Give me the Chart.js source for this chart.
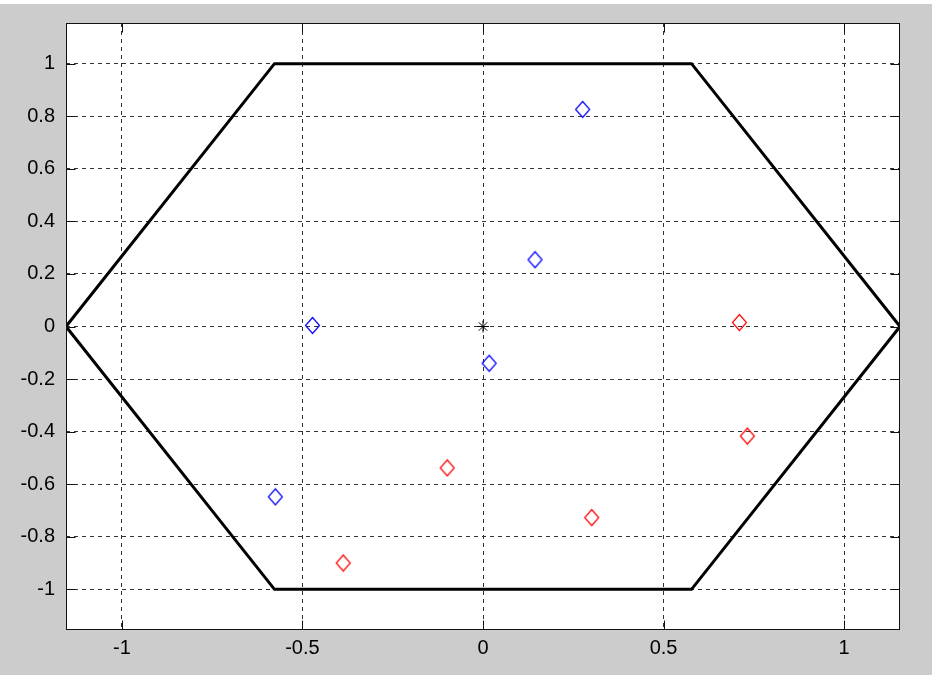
<!DOCTYPE html>
<html>
<head>
<meta charset="utf-8">
<script src="https://cdn.jsdelivr.net/npm/chart.js@4/dist/chart.umd.min.js"></script>
<style>
  html, body { margin: 0; padding: 0; background: #cccccc; }
  canvas { display: block; }
</style>
</head>
<body>
<canvas id="c" width="932" height="675"></canvas>
<script>
// Hexagon outline (closed)
const hexX = [-1.1547, -0.5774, 0.5774, 1.1547, 0.5774, -0.5774, -1.1547];
const hexY = [0, 1, 1, 0, -1, -1, 0];

// Blue samples
const blueX = [0.276, 0.144, -0.472, 0.017, -0.575];
const blueY = [0.826, 0.254, 0.004, -0.14, -0.648];

// Red samples
const redX = [0.71, 0.732, 0.301, -0.099, -0.387];
const redY = [0.015, -0.417, -0.727, -0.538, -0.90];

// Centre marker
const centerX = [0];
const centerY = [0];

// Axis ticks and labels
const xTicks = [-1, -0.5, 0, 0.5, 1];
const xTickLabels = ['-1', '-0.5', '0', '0.5', '1'];
const yTicks = [-1, -0.8, -0.6, -0.4, -0.2, 0, 0.2, 0.4, 0.6, 0.8, 1];
const yTickLabels = ['-1', '-0.8', '-0.6', '-0.4', '-0.2', '0', '0.2', '0.4', '0.6', '0.8', '1'];

const xLim = [-1.1547, 1.1547];
const yLim = [-1.1547, 1.1547];

const pts = (xs, ys) => xs.map((x, i) => ({ x: x, y: ys[i] }));

// Open diamond marker, a little taller than wide
function diamond(color) {
  const c = document.createElement('canvas');
  c.width = 17; c.height = 19;
  const g = c.getContext('2d');
  g.strokeStyle = color;
  g.lineWidth = 1.2;
  g.beginPath();
  g.moveTo(8.5, 1.5);
  g.lineTo(15.5, 9.5);
  g.lineTo(8.5, 17.5);
  g.lineTo(1.5, 9.5);
  g.closePath();
  g.stroke();
  return c;
}

// Figure background, white plot area, box and inward tick marks
const framePlugin = {
  id: 'frame',
  beforeDraw(chart) {
    const ctx = chart.ctx;
    const a = chart.chartArea;
    ctx.save();
    ctx.fillStyle = '#cccccc';
    ctx.fillRect(0, 0, chart.width, chart.height);
    ctx.fillStyle = '#ffffff';
    ctx.fillRect(0, 0, chart.width, 4);
    ctx.fillRect(a.left, a.top, a.right - a.left, a.bottom - a.top);
    ctx.restore();
  },
  afterDraw(chart) {
    const ctx = chart.ctx;
    const a = chart.chartArea;
    const xs = chart.scales.x, ys = chart.scales.y;
    const L = Math.round(a.left) + 0.5, R = Math.round(a.right) - 0.5;
    const T = Math.round(a.top) + 0.5, B = Math.round(a.bottom) - 0.5;
    const tl = 9;
    ctx.save();
    ctx.strokeStyle = '#111111';
    ctx.lineWidth = 1;
    ctx.beginPath();
    xTicks.forEach(v => {
      const p = Math.round(xs.getPixelForValue(v)) + 0.5;
      ctx.moveTo(p, B); ctx.lineTo(p, B - tl);
      ctx.moveTo(p, T); ctx.lineTo(p, T + tl);
    });
    yTicks.forEach(v => {
      const p = Math.round(ys.getPixelForValue(v)) + 0.5;
      ctx.moveTo(L, p); ctx.lineTo(L + tl, p);
      ctx.moveTo(R, p); ctx.lineTo(R - tl, p);
    });
    ctx.stroke();
    ctx.strokeRect(L, T, R - L, B - T);
    ctx.restore();
  }
};

const tickFont = { family: '"Liberation Sans", Arial, sans-serif', size: 20 };

new Chart(document.getElementById('c'), {
  type: 'scatter',
  data: {
    datasets: [
      {
        label: 'blue',
        data: pts(blueX, blueY),
        pointStyle: diamond('#0000ff'),
        pointRadius: 8,
        order: 1
      },
      {
        label: 'red',
        data: pts(redX, redY),
        pointStyle: diamond('#ff0000'),
        pointRadius: 8,
        order: 1
      },
      {
        label: 'centre',
        data: pts(centerX, centerY),
        pointStyle: 'star',
        pointRadius: 6,
        borderWidth: 1,
        borderColor: '#000000',
        backgroundColor: '#000000',
        order: 1
      },
      {
        label: 'hexagon',
        data: pts(hexX, hexY),
        showLine: true,
        borderColor: '#000000',
        borderWidth: 3,
        pointRadius: 0,
        tension: 0,
        fill: false,
        order: 2
      }
    ]
  },
  plugins: [framePlugin],
  options: {
    responsive: false,
    devicePixelRatio: 1,
    animation: false,
    layout: { padding: { left: 0, right: 32, top: 21, bottom: 0 } },
    plugins: {
      legend: { display: false },
      tooltip: { enabled: false }
    },
    scales: {
      x: {
        type: 'linear',
        position: 'bottom',
        min: xLim[0],
        max: xLim[1],
        afterBuildTicks: s => { s.ticks = xTicks.map(v => ({ value: v })); },
        afterFit: s => { s.height = 45; },
        ticks: {
          autoSkip: false,
          maxRotation: 0,
          padding: 6,
          color: '#000000',
          font: tickFont,
          callback: (v) => xTickLabels[xTicks.indexOf(v)]
        },
        grid: { color: '#333333', lineWidth: 1, drawTicks: false },
        border: { display: false, dash: [4, 4] }
      },
      y: {
        type: 'linear',
        position: 'left',
        min: yLim[0],
        max: yLim[1],
        afterBuildTicks: s => { s.ticks = yTicks.map(v => ({ value: v })); },
        afterFit: s => { s.width = 66; },
        ticks: {
          autoSkip: false,
          padding: 11,
          color: '#000000',
          font: tickFont,
          callback: (v) => yTickLabels[yTicks.indexOf(v)]
        },
        grid: { color: '#333333', lineWidth: 1, drawTicks: false },
        border: { display: false, dash: [4, 4] }
      }
    }
  }
});
</script>
</body>
</html>
